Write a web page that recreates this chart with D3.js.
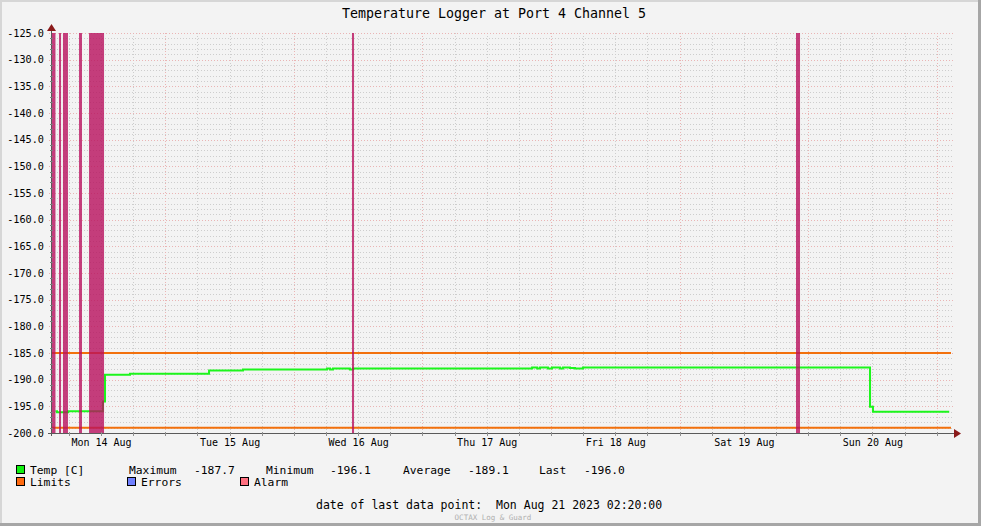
<!DOCTYPE html>
<html><head><meta charset="utf-8">
<script src="https://cdn.jsdelivr.net/npm/d3@7"></script>
<style>
html,body{margin:0;padding:0;background:#f3f3f3;}
svg{display:block;}
text{font-family:"DejaVu Sans Mono",monospace;}
</style></head>
<body>
<script>
// ---------- data ----------
const title = "Temperature Logger at Port 4 Channel 5";
const tempTimes = ["2023-08-14 03:30","2023-08-14 03:47","2023-08-14 05:50","2023-08-14 12:22","2023-08-14 12:45","2023-08-14 17:25","2023-08-15 08:10","2023-08-15 14:30","2023-08-16 06:11","2023-08-16 06:45","2023-08-16 07:18","2023-08-16 10:28","2023-08-16 11:02","2023-08-17 20:28","2023-08-17 21:25","2023-08-17 21:57","2023-08-17 23:26","2023-08-18 00:11","2023-08-18 01:41","2023-08-18 02:14","2023-08-18 03:33","2023-08-18 04:29","2023-08-18 05:58","2023-08-20 11:33","2023-08-20 12:06","2023-08-21 02:20"];
const tempValues = [-195.9,-196.1,-195.9,-194.1,-189.1,-188.9,-188.3,-188.1,-187.9,-188.1,-187.9,-188.1,-187.9,-187.7,-187.9,-187.7,-187.9,-187.7,-187.9,-187.7,-187.8,-187.9,-187.7,-195.1,-196.0,-196.0];
const limitValues = [-185, -199];
const alarmStarts = ["2023-08-14 02:40","2023-08-14 04:10","2023-08-14 04:54","2023-08-14 07:54","2023-08-14 09:46","2023-08-16 10:51","2023-08-19 21:44"];
const alarmEnds   = ["2023-08-14 03:30","2023-08-14 04:32","2023-08-14 05:50","2023-08-14 08:27","2023-08-14 12:34","2023-08-16 11:14","2023-08-19 22:29"];
const timeDomain = ["2023-08-14 02:40","2023-08-21 02:40"];
const yDomain = [-200, -125];
const legendNames = ["Temp [C]","Limits","Errors","Alarm"];
const statLabels = ["Maximum","Minimum","Average","Last"];
const statValues = ["-187.7","-196.1","-189.1","-196.0"];
const lastDateText = "date of last data point:  Mon Aug 21 2023 02:20:00";
const watermark = "OCTAX Log & Guard";

// ---------- setup ----------
const W = 981, H = 526;
const L = 51, R = 951, T = 33, B = 433;
const parse = d3.utcParse("%Y-%m-%d %H:%M");
const x = d3.scaleUtc().domain(timeDomain.map(parse)).range([L, R]);
const y = d3.scaleLinear().domain(yDomain).range([B, T]);
const loc = d3.formatLocale({decimal:".",thousands:",",grouping:[3],currency:["",""],minus:"-"});
const f1 = loc.format(".1f");

const svg = d3.select("body").append("svg").attr("width", W).attr("height", H);
svg.append("rect").attr("width", W).attr("height", H).attr("fill", "#f3f3f3");
// 3D frame
svg.append("rect").attr("x",0).attr("y",0).attr("width",W).attr("height",2).attr("fill","#d6d6d6");
svg.append("rect").attr("x",0).attr("y",0).attr("width",2).attr("height",H).attr("fill","#d6d6d6");
svg.append("rect").attr("x",W-3).attr("y",0).attr("width",3).attr("height",H).attr("fill","#a6a6a6");
svg.append("rect").attr("x",0).attr("y",H-3).attr("width",W).attr("height",3).attr("fill","#a6a6a6");

svg.append("text").attr("x", 494).attr("y", 18).attr("text-anchor","middle")
  .style("font-size","13.3px").attr("fill","#000").text(title);

// ---------- grid ----------
const grid = svg.append("g").attr("shape-rendering","crispEdges");
const minorY = d3.range(yDomain[0], yDomain[1] + 1, 1).filter(v => v % 5 !== 0);
const majorY = d3.range(yDomain[0], yDomain[1] + 1, 5);
grid.selectAll(".hmin").data(minorY).join("line")
  .attr("x1", L).attr("x2", R + 2).attr("y1", d => Math.round(y(d)) + 0.5).attr("y2", d => Math.round(y(d)) + 0.5)
  .attr("stroke", "#cdcdcd").attr("stroke-dasharray", "1,2");
const hours6 = d3.utcHour.every(6).range(x.domain()[0], x.domain()[1]);
const minorX = hours6.filter(d => d.getUTCHours() !== 0);
const majorX = hours6.filter(d => d.getUTCHours() === 0);
grid.selectAll(".vmin").data(minorX).join("line")
  .attr("x1", d => Math.round(x(d)) + 0.5).attr("x2", d => Math.round(x(d)) + 0.5).attr("y1", T).attr("y2", B + 2)
  .attr("stroke", "#cdcdcd").attr("stroke-dasharray", "1,2");
grid.selectAll(".hmaj").data(majorY).join("line")
  .attr("x1", L - 2).attr("x2", R + 2).attr("y1", d => Math.round(y(d)) + 0.5).attr("y2", d => Math.round(y(d)) + 0.5)
  .attr("stroke", "#eab4b4").attr("stroke-dasharray", "1,2");
grid.selectAll(".vmaj").data(majorX).join("line")
  .attr("x1", d => Math.round(x(d)) + 0.5).attr("x2", d => Math.round(x(d)) + 0.5).attr("y1", T).attr("y2", B + 3)
  .attr("stroke", "#eab4b4").attr("stroke-dasharray", "1,2");

// ---------- series ----------
const tempData = tempTimes.map((t, i) => ({t: parse(t), v: tempValues[i]}));
svg.append("path").datum(tempData)
  .attr("d", d3.line().x(d => x(d.t)).y(d => y(d.v)).curve(d3.curveStepAfter))
  .attr("fill", "none").attr("stroke", "#1cf51c").attr("stroke-width", 2);

svg.selectAll(".lim").data(limitValues).join("line")
  .attr("x1", L).attr("x2", R).attr("y1", d => y(d)).attr("y2", d => y(d))
  .attr("stroke", "#f2700c").attr("stroke-width", 2);

const alarms = alarmStarts.map((s, i) => ({s: parse(s), e: parse(alarmEnds[i])}));
svg.selectAll(".alarm").data(alarms).join("rect")
  .attr("x", d => x(d.s)).attr("width", d => Math.max(2, x(d.e) - x(d.s)))
  .attr("y", T).attr("height", B - T)
  .attr("fill", "#b80f5c").attr("fill-opacity", 0.8);

// ---------- axes ----------
const yAxis = d3.axisLeft(y).tickValues(majorY).tickFormat(f1).tickSize(0).tickPadding(7);
const gy = svg.append("g").attr("transform", `translate(${L},0)`).call(yAxis);
gy.select(".domain").remove();
gy.selectAll("text").style("font-size", "10.2px").attr("fill", "#000").style("font-family","'DejaVu Sans Mono',monospace");

const noons = d3.utcDay.range(parse("2023-08-14 00:00"), parse("2023-08-21 00:00")).map(d => d3.utcHour.offset(d, 12));
const xAxis = d3.axisBottom(x).tickValues(noons).tickFormat(d3.utcFormat("%a %d %b")).tickSize(0).tickPadding(6);
const gx = svg.append("g").attr("transform", `translate(0,${B})`).call(xAxis);
gx.select(".domain").remove();
gx.selectAll("text").style("font-size", "10px").attr("fill", "#000").style("font-family","'DejaVu Sans Mono',monospace");

// axis lines + ticks
const ax = svg.append("g").attr("shape-rendering","crispEdges");
ax.append("line").attr("x1", L - 3).attr("x2", R + 4).attr("y1", B + 0.5).attr("y2", B + 0.5).attr("stroke", "#5a5a5a");
ax.append("line").attr("x1", L + 0.5).attr("x2", L + 0.5).attr("y1", B + 3).attr("y2", T - 4).attr("stroke", "#5a5a5a");
ax.selectAll(".ytk").data(minorY).join("line")
  .attr("x1", L - 1).attr("x2", L + 2).attr("y1", d => Math.round(y(d)) + 0.5).attr("y2", d => Math.round(y(d)) + 0.5).attr("stroke", "#808080");
ax.selectAll(".xtk").data(hours6).join("line")
  .attr("x1", d => Math.round(x(d)) + 0.5).attr("x2", d => Math.round(x(d)) + 0.5).attr("y1", B - 1).attr("y2", B + 3).attr("stroke", "#909090");
svg.append("path").attr("d", `M${R+3},${B-4}L${R+10},${B+0.5}L${R+3},${B+5}Z`).attr("fill", "#8b1a1a");
svg.append("path").attr("d", `M${L-4},${T-2}L${L+0.5},${T-9}L${L+5},${T-2}Z`).attr("fill", "#8b1a1a");

// ---------- legend ----------
const legendColors = ["#10f010","#ff6a10","#7080ff","#ff7080"];
const legendPos = [[16,465],[16,477],[127,477],[240,477]];
const lg = svg.append("g").style("font-size","11.3px");
legendNames.forEach((n, i) => {
  lg.append("rect").attr("x", legendPos[i][0] + 0.5).attr("y", legendPos[i][1] + 0.5).attr("width", 8).attr("height", 8)
    .attr("fill", legendColors[i]).attr("stroke", "#000").attr("stroke-width", 1).attr("shape-rendering","crispEdges");
  lg.append("text").attr("x", legendPos[i][0] + 14).attr("y", legendPos[i][1] + 9).text(n);
});
const statX = [[129,194],[266,330],[403,468],[539,584]];
statLabels.forEach((s, i) => {
  lg.append("text").attr("x", statX[i][0]).attr("y", 474).text(s);
  lg.append("text").attr("x", statX[i][1]).attr("y", 474).text(statValues[i]);
});
svg.append("text").attr("x", 316).attr("y", 509).style("font-size","11.5px").attr("xml:space","preserve").style("white-space","pre").text(lastDateText);
svg.append("text").attr("x", 493).attr("y", 519.5).attr("text-anchor","middle").style("font-size","7.5px").attr("fill","#b0b0b0").text(watermark);
</script>
</body></html>
